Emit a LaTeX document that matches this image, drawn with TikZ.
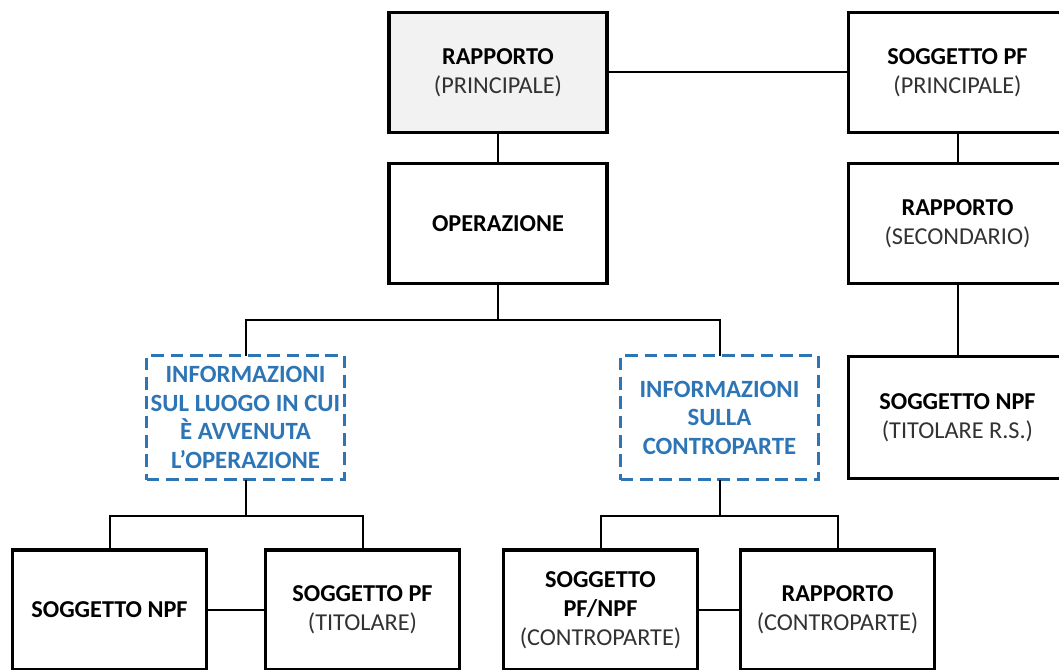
\documentclass[tikz,border=0pt]{standalone}
\usepackage{fontspec}
\setmainfont{Carlito}
\definecolor{bl}{RGB}{46,117,182}
\definecolor{tg}{RGB}{50,50,50}
\definecolor{lg}{RGB}{242,242,242}
\begin{document}
\begin{tikzpicture}[x=0.75pt,y=-0.75pt,
  every node/.style={inner sep=0pt,outer sep=0pt,align=center,font=\fontsize{18.2}{21.7}\selectfont},
  box/.style={draw=black,line width=2.4pt,fill=white,minimum width=163.5pt,minimum height=90pt},
  sbox/.style={box,minimum width=145.5pt},
  dbox/.style={draw=bl,line width=2.5pt,dash pattern=on 9.5pt off 5pt,fill=white,minimum width=148.5pt,minimum height=93pt,text=bl,font=\fontsize{18.6}{21.4}\selectfont\bfseries},
  conn/.style={draw=black,line width=1.5pt}]
\useasboundingbox (0,0) rectangle (1059,670);
\clip (0,0) rectangle (1059,670);
\fill[white] (0,0) rectangle (1059,670);
% nodes
\node[box,fill=lg] (rp) at (498,72.5) {\textbf{RAPPORTO}\\\textcolor{tg}{(PRINCIPALE)}};
\node[box] (sp) at (957.5,72.5) {\textbf{SOGGETTO PF}\\\textcolor{tg}{(PRINCIPALE)}};
\node[box] (op) at (498,223.5) {\textbf{OPERAZIONE}};
\node[box] (rs) at (957.5,223.5) {\textbf{RAPPORTO}\\\textcolor{tg}{(SECONDARIO)}};
\node[box,minimum height=92pt] (sn) at (957.5,417.5) {\textbf{SOGGETTO NPF}\\\textcolor{tg}{(TITOLARE R.S.)}};
\node[dbox] (d1) at (245.5,417.5) {INFORMAZIONI\\SUL LUOGO IN CUI\\È AVVENUTA\\L’OPERAZIONE};
\node[dbox] (d2) at (719.5,417.5) {INFORMAZIONI\\SULLA\\CONTROPARTE};
\node[sbox] (b1) at (109.5,610) {\textbf{SOGGETTO NPF}};
\node[sbox] (b2) at (362.5,610) {\textbf{SOGGETTO PF}\\\textcolor{tg}{(TITOLARE)}};
\node[sbox] (b3) at (600.5,610) {\textbf{SOGGETTO}\\\textbf{PF/NPF}\\\textcolor{tg}{(CONTROPARTE)}};
\node[sbox] (b4) at (837.5,610) {\textbf{RAPPORTO}\\\textcolor{tg}{(CONTROPARTE)}};
% junction coordinates
\coordinate (j0) at (498,320);
\coordinate (j1) at (245.5,516);
\coordinate (j2) at (719.5,516);
% connectors
\draw[conn] (rp.east) -- (sp.west);
\draw[conn] (rp.south) -- (op.north);
\draw[conn] (sp.south) -- (rs.north);
\draw[conn] (rs.south) -- (sn.north);
\draw[conn] (op.south) -- (j0);
\draw[conn] (j0) -| (d1.north);
\draw[conn] (j0) -| (d2.north);
\draw[conn] (d1.south) -- (j1);
\draw[conn] (j1) -| (b1.north);
\draw[conn] (j1) -| (b2.north);
\draw[conn] (d2.south) -- (j2);
\draw[conn] (j2) -| (b3.north);
\draw[conn] (j2) -| (b4.north);
\draw[conn] (b1.east) -- (b2.west);
\draw[conn] (b3.east) -- (b4.west);
\end{tikzpicture}
\end{document}
